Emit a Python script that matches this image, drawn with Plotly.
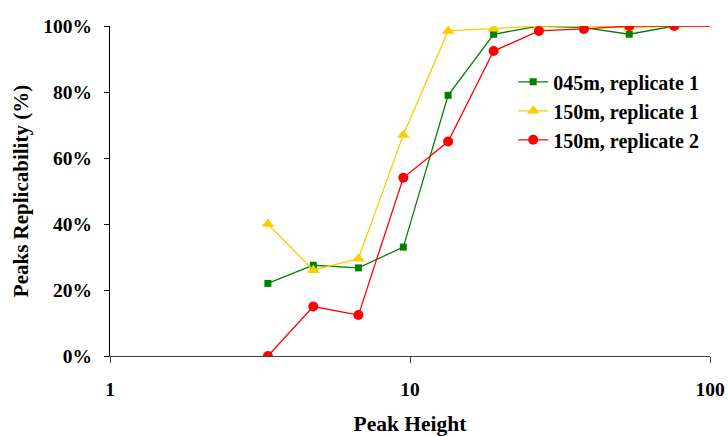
import plotly.graph_objects as go

peak_height = [3.36, 4.76, 6.73, 9.5, 13.4, 19.0, 26.9, 38.0, 53.8, 76.0, 107.5]
rep_045m_r1 = [0.22, 0.275, 0.267, 0.33, 0.79, 0.975, 1.0, 0.995, 0.975, 1.0, 1.0]
rep_150m_r1 = [0.40, 0.26, 0.295, 0.67, 0.985, 0.992, 1.0, 1.0, 0.995, 1.0, 1.0]
rep_150m_r2 = [0.0, 0.15, 0.124, 0.54, 0.65, 0.924, 0.985, 0.991, 1.0, 1.0, 1.0]

series_names = ["045m, replicate 1", "150m, replicate 1", "150m, replicate 2"]
x_ticks = [1, 10, 100]
y_ticks = [0, 0.2, 0.4, 0.6, 0.8, 1.0]
y_tick_labels = ["0%", "20%", "40%", "60%", "80%", "100%"]

FONT = "Liberation Serif, Times New Roman, serif"

fig = go.Figure()
fig.add_trace(go.Scatter(
    x=peak_height, y=rep_045m_r1, name=series_names[0], mode="lines+markers",
    legendgroup="a",
    line=dict(color="#008000", width=1.3),
    marker=dict(symbol="square", size=7, color="#008000"),
))
fig.add_trace(go.Scatter(
    x=peak_height, y=rep_150m_r1, name=series_names[1], mode="lines+markers",
    legendgroup="b",
    line=dict(color="#FFCC00", width=1.3),
    marker=dict(symbol="triangle-up", size=11, color="#FFCC00"),
))
fig.add_trace(go.Scatter(
    x=peak_height, y=rep_150m_r2, name=series_names[2], mode="lines+markers",
    legendgroup="c",
    line=dict(color="#FF0000", width=1.3),
    marker=dict(symbol="circle", size=10, color="#FF0000"),
))

fig.update_layout(
    width=728, height=436,
    margin=dict(l=110, r=18, t=26, b=80),
    plot_bgcolor="white", paper_bgcolor="white",
    font=dict(family=FONT, color="black", size=19),
    showlegend=True,
    legend=dict(
        x=0.672, y=0.89, xanchor="left", yanchor="top",
        bgcolor="rgba(0,0,0,0)", tracegroupgap=0,
        font=dict(family=FONT, size=20, color="black", weight="bold"),
    ),
    xaxis=dict(
        type="log", range=[0, 2], automargin=False,
        tickvals=x_ticks, ticktext=[str(v) for v in x_ticks],
        showgrid=False, zeroline=False,
        showline=True, linecolor="#404040", linewidth=1.3,
        ticks="outside", ticklen=6, tickcolor="#404040", tickwidth=1.3,
        ticklabelstandoff=9,
        tickfont=dict(family=FONT, size=19.5, weight="bold"),
        title=dict(text="<b>Peak Height</b>", font=dict(family=FONT, size=21.5), standoff=17),
    ),
    yaxis=dict(
        range=[0, 1.0], automargin=False,
        tickvals=y_ticks, ticktext=y_tick_labels,
        showgrid=False, zeroline=False,
        showline=True, linecolor="black", linewidth=1,
        ticks="outside", ticklen=5, tickcolor="black",
        ticklabelstandoff=8,
        tickfont=dict(family=FONT, size=19.5, weight="bold"),
        title=dict(text="<b>Peaks Replicability (%)</b>", font=dict(family=FONT, size=21), standoff=8),
    ),
)

fig.write_html("out.html")
